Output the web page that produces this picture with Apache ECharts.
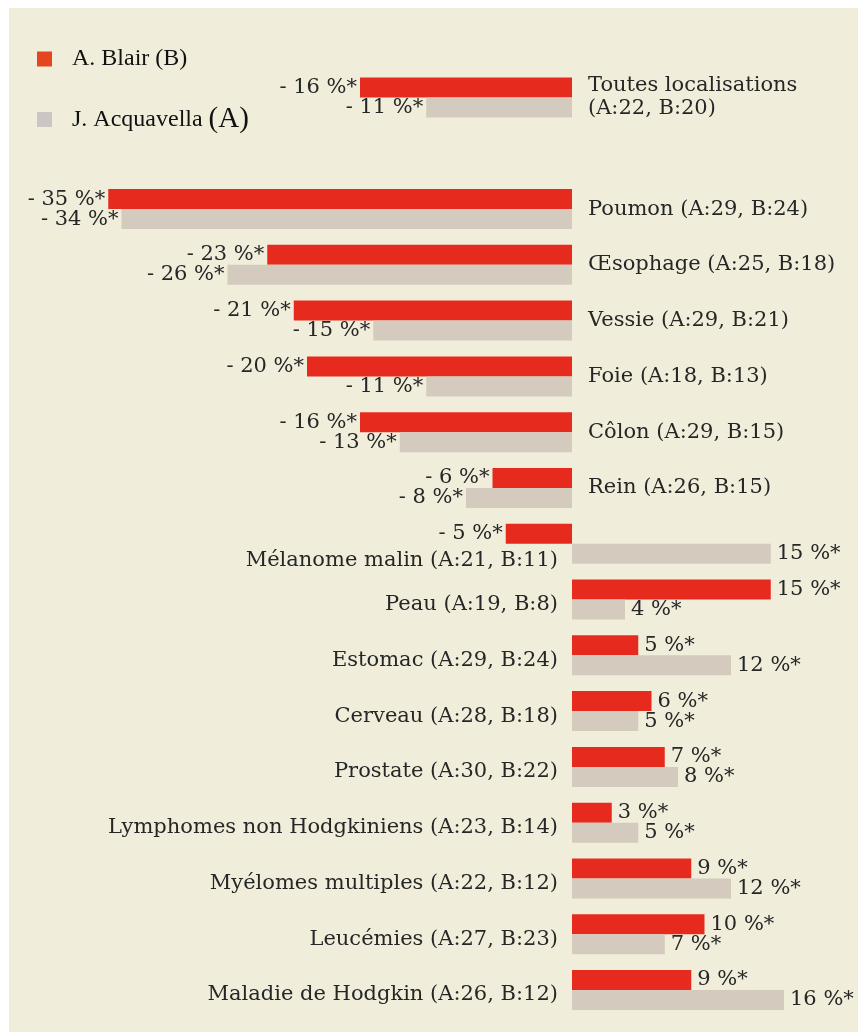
<!DOCTYPE html>
<html>
<head>
<meta charset="utf-8">
<script src="https://cdn.jsdelivr.net/npm/echarts@6/dist/echarts.min.js"></script>
<style>
body { margin: 0; background: #fff; }
#chart { position: absolute; left: 9px; top: 8px; width: 849px; height: 1024px; }
</style>
</head>
<body>
<div id="chart"></div>
<script>
// rows, top to bottom (one blank row after "Toutes localisations")
var categories = [
  'Toutes localisations\n(A:22, B:20)',
  '',
  'Poumon (A:29, B:24)',
  'Œsophage (A:25, B:18)',
  'Vessie (A:29, B:21)',
  'Foie (A:18, B:13)',
  'Côlon (A:29, B:15)',
  'Rein (A:26, B:15)',
  'Mélanome malin (A:21, B:11)',
  'Peau (A:19, B:8)',
  'Estomac (A:29, B:24)',
  'Cerveau (A:28, B:18)',
  'Prostate (A:30, B:22)',
  'Lymphomes non Hodgkiniens (A:23, B:14)',
  'Myélomes multiples (A:22, B:12)',
  'Leucémies (A:27, B:23)',
  'Maladie de Hodgkin (A:26, B:12)'
]
// A. Blair (B)
var blair = [-16, null, -35, -23, -21, -20, -16, -6, -5, 15, 5, 6, 7, 3, 9, 10, 9]
// J. Acquavella (A)
var acquavella = [-11, null, -34, -26, -15, -11, -13, -8, 15, 4, 12, 5, 8, 5, 12, 7, 16]

var RED = '#e62a1e'
var GREY = '#d4cabe'
var INK = '#262626'

function fmtPct (v) {
  return (v < 0 ? '- ' + Math.abs(v) : v) + ' %*'
}

function barData (arr) {
  return arr.map(function (v) {
    if (v === null) return '-'
    return {
      value: v,
      label: { position: v < 0 ? 'left' : 'right', distance: v < 0 ? 3 : 6 }
    }
  })
}

// category names sit on the side opposite to the A bar
var nameData = categories.map(function (c, i) {
  if (!c) return null
  var a = acquavella[i]
  var b = blair[i]
  var left = a > 0
  var dy = 0
  if (left) dy = b < 0 ? 17 : 5
  return {
    value: [0, i],
    label: {
      position: left ? 'left' : 'right',
      distance: left ? 14 : 16,
      offset: [0, dy]
    }
  }
}).filter(function (d) { return d })

var valueLabel = {
  show: true,
  color: INK,
  fontFamily: 'DejaVu Serif',
  fontSize: 21,
  formatter: function (p) { return fmtPct(p.value) }
}

var option = {
  backgroundColor: '#f0eedb',
  animation: false,
  grid: { left: 33, right: 21, top: 61.6, bottom: 14.1 },
  legend: {
    orient: 'vertical',
    left: 28,
    top: 39,
    padding: 0,
    itemGap: 34,
    itemWidth: 15,
    itemHeight: 15,
    icon: 'rect',
    selectedMode: false,
    data: [
      { name: 'A. Blair (B)', itemStyle: { color: '#e4461f' } },
      { name: 'J. Acquavella (A)', itemStyle: { color: '#cdc4c4' } }
    ],
    formatter: function (name) {
      if (name === 'J. Acquavella (A)') return '{n|J. Acquavella }{b|(A)}'
      return '{n|' + name + '}'
    },
    textStyle: {
      padding: [0, 0, 0, 15],
      rich: {
        n: { fontFamily: 'Liberation Serif', fontSize: 24, color: '#111', lineHeight: 28 },
        b: { fontFamily: 'Liberation Serif', fontSize: 29, color: '#111', lineHeight: 28 }
      }
    }
  },
  xAxis: {
    type: 'value',
    min: -40,
    max: 20,
    show: false
  },
  yAxis: {
    type: 'category',
    inverse: true,
    data: categories,
    show: false
  },
  series: [
    {
      name: 'A. Blair (B)',
      type: 'bar',
      barWidth: 20,
      barGap: '0%',
      itemStyle: { color: RED },
      label: valueLabel,
      data: barData(blair)
    },
    {
      name: 'J. Acquavella (A)',
      type: 'bar',
      barWidth: 20,
      barGap: '0%',
      itemStyle: { color: GREY },
      label: valueLabel,
      data: barData(acquavella)
    },
    {
      name: 'noms',
      type: 'scatter',
      symbolSize: 0,
      silent: true,
      itemStyle: { opacity: 1 },
      label: {
        show: true,
        color: INK,
        fontFamily: 'DejaVu Serif',
        fontSize: 21,
        lineHeight: 23,
        formatter: function (p) { return categories[p.value[1]] }
      },
      data: nameData
    }
  ]
}

var chart = echarts.init(document.getElementById('chart'))
chart.setOption(option)
</script>
</body>
</html>
